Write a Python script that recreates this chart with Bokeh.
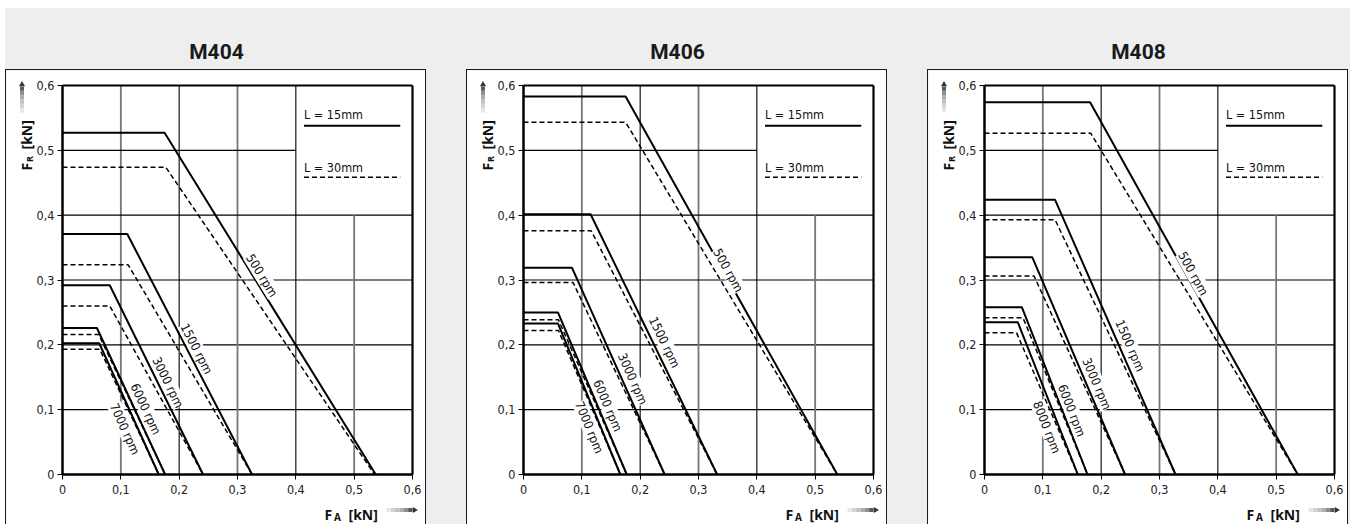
import math
from bokeh.plotting import figure
from bokeh.models import Label, Div, FixedTicker, Range1d, LinearAxis
from bokeh.layouts import row, column
from bokeh.embed import file_html
from bokeh.resources import INLINE

# ---------------- data ----------------
TICKS = [0, 0.1, 0.2, 0.3, 0.4, 0.5, 0.6]
TICK_LABELS = ["0", "0,1", "0,2", "0,3", "0,4", "0,5", "0,6"]
TITLES = ["M404", "M406", "M408"]
LEGEND_TEXT = ["L = 15mm", "L = 30mm"]

M404_SPEEDS = ["500 rpm", "1500 rpm", "3000 rpm", "6000 rpm", "7000 rpm"]
M404_FR_15 = [0.527, 0.371, 0.292, 0.226, 0.2025]   # F_R plateau, L = 15mm
M404_KNEE_15 = [0.175, 0.111, 0.081, 0.059, 0.063]  # F_A where plateau ends
M404_END_15 = [0.537, 0.325, 0.241, 0.176, 0.165]   # F_A at F_R = 0
M404_FR_30 = [0.474, 0.3235, 0.260, 0.216, 0.193]
M404_KNEE_30 = [0.177, 0.1125, 0.081, 0.062, 0.064]
M404_END_30 = [0.535, 0.325, 0.241, 0.176, 0.165]

M406_SPEEDS = ["500 rpm", "1500 rpm", "3000 rpm", "6000 rpm", "7000 rpm"]
M406_FR_15 = [0.583, 0.4015, 0.319, 0.250, 0.233]
M406_KNEE_15 = [0.175, 0.115, 0.083, 0.059, 0.059]
M406_END_15 = [0.538, 0.332, 0.242, 0.177, 0.166]
M406_FR_30 = [0.5435, 0.376, 0.296, 0.2385, 0.222]
M406_KNEE_30 = [0.175, 0.116, 0.085, 0.060, 0.060]
M406_END_30 = [0.538, 0.332, 0.242, 0.177, 0.166]

M408_SPEEDS = ["500 rpm", "1500 rpm", "3000 rpm", "6000 rpm", "8000 rpm"]
M408_FR_15 = [0.574, 0.4237, 0.335, 0.258, 0.235]
M408_KNEE_15 = [0.181, 0.121, 0.082, 0.064, 0.057]
M408_END_15 = [0.537, 0.3275, 0.241, 0.1766, 0.160]
M408_FR_30 = [0.5265, 0.393, 0.306, 0.2417, 0.2185]
M408_KNEE_30 = [0.182, 0.121, 0.085, 0.066, 0.055]
M408_END_30 = [0.537, 0.3275, 0.241, 0.1766, 0.160]

# ---------------- layout / style ----------------
LBL_POS = [
    ([0.342, 0.230, 0.181, 0.143, 0.107], [0.307, 0.194, 0.142, 0.101, 0.0705]),
    ([0.351, 0.242, 0.1875, 0.1446, 0.113], [0.315, 0.204, 0.1476, 0.1064, 0.073]),
    ([0.358, 0.2498, 0.1927, 0.1498, 0.107], [0.310, 0.199, 0.140, 0.0987, 0.073]),
]
COND = "'Liberation Sans Narrow', 'DejaVu Sans Condensed', sans-serif"
BOLD = "'Open Sans', 'DejaVu Sans', sans-serif"
BG = "#eeeeee"
FRAME_W, FRAME_H = 350, 389          # px spanned by 0..0.6
BL, BR, BT, BB = 56, 15, 15, 51      # px around that area
FIG_W = BL + FRAME_W + BR
FIG_H = BT + FRAME_H + BB
GAP = 38
XMAX = 0.6
LEG_CORNER = 0.4
SX = XMAX / FRAME_W   # data units per px
SY = XMAX / FRAME_H
ARROW_SHADES = ["#e6e6e6", "#d4d4d4", "#c2c2c2", "#adadad", "#8f8f8f", "#5a5a5a"]


def lab(p, x, y, text, size, font=BOLD, angle=0.0, color="#111111", bold=True,
        align="left", baseline="alphabetic", bg=None):
    p.add_layout(Label(x=x, y=y, text=text, angle=angle, text_font=font,
                       text_font_style="bold" if bold else "normal", text_font_size=size,
                       text_align=align, text_baseline=baseline, text_color=color,
                       background_fill_color=bg))


def make_panel(title, speeds, fr15, k15, e15, fr30, k30, e30, lpos):
    p = figure(width=FIG_W, height=FIG_H,
               x_range=Range1d(-BL * SX, XMAX + BR * SX),
               y_range=Range1d(-BB * SY, XMAX + BT * SY),
               x_axis_location=None, y_axis_location=None,
               output_backend="svg", toolbar_location=None,
               min_border_left=0, min_border_right=0, min_border_top=0, min_border_bottom=0,
               background_fill_color="white", border_fill_color="white", margin=0,
               styles={"border": "1px solid #1a1a1a", "border-bottom": "none"})
    p.outline_line_color = None
    p.grid.visible = False

    overrides = dict(zip(TICKS, TICK_LABELS))
    for loc in ("below", "left"):
        ax = LinearAxis(fixed_location=0, bounds=(0, XMAX), ticker=FixedTicker(ticks=TICKS),
                        major_label_overrides=overrides,
                        axis_line_width=2.5, axis_line_color="black",
                        major_tick_out=5, major_tick_in=0, major_tick_line_color="black",
                        minor_tick_line_color=None,
                        major_label_text_font=COND, major_label_text_font_size="12.5px",
                        major_label_text_color="#222222",
                        major_label_standoff=5 if loc == "below" else 3)
        p.add_layout(ax, loc)

    # grid lines (legend corner left free)
    inner = TICKS[1:-1]
    for t in inner:
        top = LEG_CORNER if t > LEG_CORNER else XMAX
        odd = round(t * 10) % 2 == 1
        p.segment(x0=[t], y0=[0], x1=[t], y1=[top],
                  line_color="#777777" if odd else "black", line_width=1.8 if odd else 1.1)
        p.segment(x0=[0], y0=[t], x1=[top], y1=[t], line_color="black", line_width=1.1)
    # top / right frame edges
    p.segment(x0=[0, XMAX], y0=[XMAX, 0], x1=[XMAX, XMAX], y1=[XMAX, XMAX],
              line_color="black", line_width=2.2)

    # curves
    p.multi_line(xs=[[0, k, e] for k, e in zip(k15, e15)], ys=[[f, f, 0] for f in fr15],
                 line_color="black", line_width=2)
    p.multi_line(xs=[[0, k, e] for k, e in zip(k30, e30)], ys=[[f, f, 0] for f in fr30],
                 line_color="black", line_width=1.5, line_dash="5 3")

    # legend
    p.line([0.414, 0.579], [0.538, 0.538], line_color="black", line_width=2)
    p.line([0.414, 0.579], [0.4586, 0.4586], line_color="black", line_width=1.5, line_dash="5 3")
    for txt, yy in zip(LEGEND_TEXT, [0.556, 0.474]):
        lab(p, 0.414, yy, txt, "12.5px", font=COND, bold=False, baseline="middle")

    # rpm labels along the lines
    for s, f, k, e, lx, ly in zip(speeds, fr15, k15, e15, lpos[0], lpos[1]):
        ang = math.atan2(f / SY, (e - k) / SX)
        lab(p, lx, ly, s, "12.5px", font=COND, angle=-ang, bold=False,
            align="center", baseline="middle", bg="white")

    # y axis label  F_R [kN] (positions in px from the 0,6 corner)
    up = math.pi / 2
    lab(p, -36 * SX, XMAX - 85 * SY, "F", "14px", angle=up)
    lab(p, -33.5 * SX, XMAX - 76.5 * SY, "R", "9px", angle=up)
    lab(p, -36 * SX, XMAX - 64 * SY, "[kN]", "14px", angle=up)
    # y arrow (gradient bar + head)
    n = len(ARROW_SHADES)
    y0p, y1p = -27.0, -1.0
    for i, c in enumerate(ARROW_SHADES):
        a = y0p + (y1p - y0p) * i / n
        b = y0p + (y1p - y0p) * (i + 1) / n
        p.segment(x0=[-40.5 * SX], y0=[XMAX + a * SY], x1=[-40.5 * SX], y1=[XMAX + b * SY],
                  line_color=c, line_width=4, line_cap="butt")
    p.scatter(x=[-40.5 * SX], y=[XMAX + 1 * SY], marker="triangle", size=6,
              fill_color="#333333", line_color=None)

    # x axis label  F_A [kN]
    lab(p, XMAX - 88 * SX, -40 * SY, "F", "14px")
    lab(p, XMAX - 78.5 * SX, -42 * SY, "A", "10px")
    lab(p, XMAX - 64 * SX, -40 * SY, "[kN]", "14px")
    x0p, x1p = -26.0, 0.0
    ya = -35.5 * SY
    for i, c in enumerate(ARROW_SHADES):
        a = x0p + (x1p - x0p) * i / n
        b = x0p + (x1p - x0p) * (i + 1) / n
        p.segment(x0=[XMAX + a * SX], y0=[ya], x1=[XMAX + b * SX], y1=[ya],
                  line_color=c, line_width=4, line_cap="butt")
    p.scatter(x=[XMAX + 2 * SX], y=[ya], marker="triangle", angle=-math.pi / 2, size=6,
              fill_color="#333333", line_color=None)

    head = Div(text=title, width=FIG_W + 2, height=61, margin=0,
               styles={"text-align": "center", "font-size": "21px", "font-weight": "bold",
                       "font-family": "Roboto, 'DejaVu Sans', sans-serif", "line-height": "89px",
                       "color": "#1a1a1a"})
    return column(head, p, spacing=0, margin=0)


panels = [
    make_panel(TITLES[0], M404_SPEEDS, M404_FR_15, M404_KNEE_15, M404_END_15,
               M404_FR_30, M404_KNEE_30, M404_END_30, LBL_POS[0]),
    make_panel(TITLES[1], M406_SPEEDS, M406_FR_15, M406_KNEE_15, M406_END_15,
               M406_FR_30, M406_KNEE_30, M406_END_30, LBL_POS[1]),
    make_panel(TITLES[2], M408_SPEEDS, M408_FR_15, M408_KNEE_15, M408_END_15,
               M408_FR_30, M408_KNEE_30, M408_END_30, LBL_POS[2]),
]
root = row(*panels, spacing=GAP, margin=(8, 0, 0, 5), styles={"background-color": BG})

open("out.html", "w").write(file_html(root, INLINE))
